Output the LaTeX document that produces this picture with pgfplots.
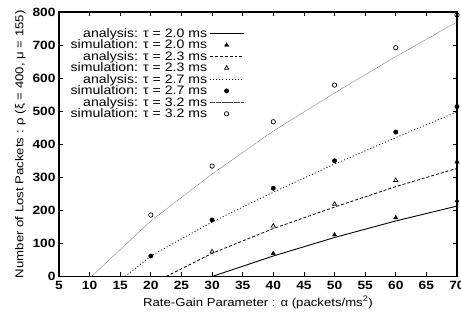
\documentclass[border=0pt]{standalone}
\usepackage{fontspec}
\setmainfont{Liberation Sans}[FakeStretch=1.15]
\usepackage{pgfplots}
\pgfplotsset{compat=1.18}
\begin{document}
\begin{tikzpicture}
\path[use as bounding box] (0,0) rectangle (461bp,323bp);
\begin{axis}[
  at={(59bp,46.5bp)}, anchor=south west,
  scale only axis, width=398bp, height=264.5bp,
  xmin=5, xmax=70, ymin=0, ymax=800,
  xtick={5,10,...,70}, ytick={0,100,...,800},
  tick align=inside, major tick length=4bp,
  tick style={line width=0.8pt, black},
  axis line style={line width=1.1pt},
  /pgf/number format/assume math mode=true,
  tick label style={font=\fontsize{12}{14}\selectfont\bfseries},
  xticklabel style={yshift=-1bp},
  label style={font=\fontsize{11.5}{13}\selectfont},
  xlabel={Rate-Gain Parameter : α (packets/ms\textsuperscript{2})},
  ylabel={Number of Lost Packets : ρ (ξ = 400, μ = 155)},
  legend style={draw=none, fill=none, at={(0.468,0.95)}, anchor=north east,
    font=\fontsize{12.3}{12}\selectfont, row sep=-2.9bp, inner sep=1bp},
  legend cell align=right, legend plot pos=right,
  legend image code/.code={\draw[mark repeat=2,mark phase=2,#1] plot coordinates {(0cm,0cm) (0.6cm,0cm) (1.2cm,0cm)};},
]
\addplot[black, line width=0.9pt, no marks] coordinates {(30,0) (40,62) (50,118) (60,168) (70,213)};
\addlegendentry{analysis: τ = 2.0 ms}
\addplot[black, only marks, mark=triangle*, mark size=2.4pt] coordinates {(40,70) (50,126) (60,178) (70,229)};
\addlegendentry{simulation: τ = 2.0 ms}
\addplot[black, line width=0.8pt, dash pattern=on 3pt off 2pt, no marks] coordinates {(22.5,0) (30,70) (40,145) (50,210) (60,272) (70,327)};
\addlegendentry{analysis: τ = 2.3 ms}
\addplot[black, only marks, mark=triangle, mark size=2.4pt, mark options={line width=0.7pt}] coordinates {(30,75) (40,153) (50,219) (60,291) (70,347)};
\addlegendentry{simulation: τ = 2.3 ms}
\addplot[black, line width=0.8pt, dash pattern=on 1pt off 2.2pt, no marks] coordinates {(15.8,0) (20,62) (30,165) (40,255) (50,340) (60,420) (70,498)};
\addlegendentry{analysis: τ = 2.7 ms}
\addplot[black, only marks, mark=*, mark size=2.2pt] coordinates {(20,62) (30,171) (40,267) (50,350) (60,437) (70,514)};
\addlegendentry{simulation: τ = 2.7 ms}
\addplot[black!75, line width=0.5pt, dash pattern=on 0.5pt off 0.7pt, no marks] coordinates {(10.3,0) (20,168) (30,310) (40,440) (50,555) (60,665) (70,770)};
\addlegendentry{analysis: τ = 3.2 ms}
\addplot[black, only marks, mark=o, mark size=2.2pt, mark options={line width=0.7pt}] coordinates {(20,186) (30,334) (40,468) (50,579) (60,692) (70,791)};
\addlegendentry{simulation: τ = 3.2 ms}
\end{axis}
\end{tikzpicture}
\end{document}
